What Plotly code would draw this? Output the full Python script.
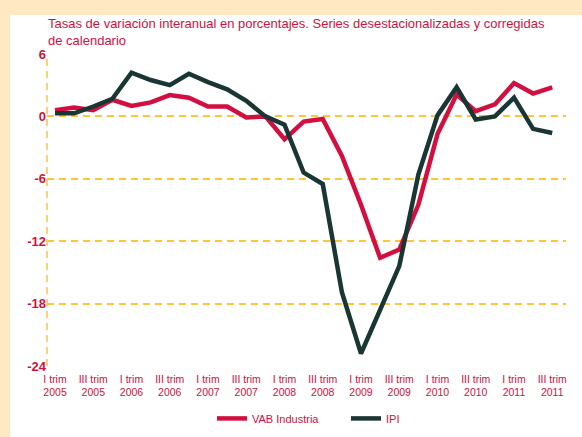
import plotly.graph_objects as go

quarters = ["I", "II", "III", "IV"]
years = list(range(2005, 2012))
periods = [f"{q} trim {y}" for y in years for q in quarters][:27]

vab_industria = [0.6, 0.85, 0.6, 1.6, 1.0, 1.35, 2.05, 1.8, 0.95, 0.95, -0.1, 0.0,
                 -2.2, -0.5, -0.25, -3.8, -8.5, -13.6, -12.8, -8.5, -1.7, 2.1, 0.5,
                 1.15, 3.2, 2.2, 2.8]
ipi = [0.3, 0.3, 0.95, 1.7, 4.2, 3.5, 3.0, 4.1, 3.3, 2.6, 1.5, 0.0, -0.8, -5.4,
       -6.5, -16.9, -22.8, -18.6, -14.4, -5.6, 0.1, 2.8, -0.3, 0.0, 1.8, -1.2, -1.6]

tick_idx = list(range(0, 27, 2))
tick_text = [periods[i].replace(" 20", "<br>20") for i in tick_idx]
y_ticks = [6, 0, -6, -12, -18, -24]

RED = "#D20F3E"
DARK = "#1A3634"
GRID = "#FFC53D"
FRAME = "#FFE8C2"

x = list(range(len(periods)))

fig = go.Figure()
fig.add_trace(go.Scatter(x=x, y=vab_industria, mode="lines", name="VAB Industria",
                         line=dict(color=RED, width=4.5)))
fig.add_trace(go.Scatter(x=x, y=ipi, mode="lines", name="IPI",
                         line=dict(color=DARK, width=4.5)))

L, R, T, B = 47, 16, 54, 71
W, H = 582, 437
pw, ph = W - L - R, H - T - B

fig.update_layout(
    width=W, height=H,
    margin=dict(l=L, r=R, t=T, b=B, autoexpand=False),
    paper_bgcolor=FRAME,
    plot_bgcolor="white",
    title=dict(text="Tasas de variación interanual en porcentajes. Series desestacionalizadas y corregidas<br>de calendario",
               x=48 / W, xref="container", xanchor="left",
               y=1 - 28 / H, yref="container", yanchor="top",
               font=dict(family="Liberation Sans", size=13, color=RED)),
    showlegend=True,
    legend=dict(orientation="h", x=(212 - L) / pw, xanchor="left", y=-0.168, yanchor="middle",
                font=dict(family="Liberation Sans", size=11, color=RED),
                bgcolor="rgba(0,0,0,0)", itemwidth=30, tracegroupgap=0,
                entrywidth=89, entrywidthmode="pixels"),
    xaxis=dict(range=[-0.42, 26.72], tickmode="array", tickvals=tick_idx, ticktext=tick_text,
               showgrid=False, zeroline=False, showline=False, ticks="", automargin=False,
               ticklabelstandoff=5,
               tickfont=dict(family="Liberation Sans", size=10.5, color=RED)),
    yaxis=dict(range=[-24, 6], tickmode="array", tickvals=y_ticks, ticktext=[str(v) for v in y_ticks],
               showgrid=True, gridcolor=GRID, griddash="7px,5px", gridwidth=1.5,
               zeroline=False, showline=False, ticks="", automargin=False,
               tickfont=dict(family="Liberation Sans", size=13, color=RED, weight="bold")),
    shapes=[
        dict(type="rect", xref="paper", yref="paper", x0=(10 - L) / pw, x1=(W - L) / pw + 0.05,
             y0=-(B + 5) / ph, y1=1 + (T - 15) / ph, fillcolor="white", line=dict(width=0), layer="below"),
        dict(type="line", xref="paper", yref="paper", x0=0, x1=0, y0=0, y1=1,
             line=dict(color=GRID, width=1.5, dash="7px,5px"), layer="below"),
    ],
)

fig.write_html("out.html", config={"displayModeBar": False},
               post_script="document.body.style.margin='0';")
